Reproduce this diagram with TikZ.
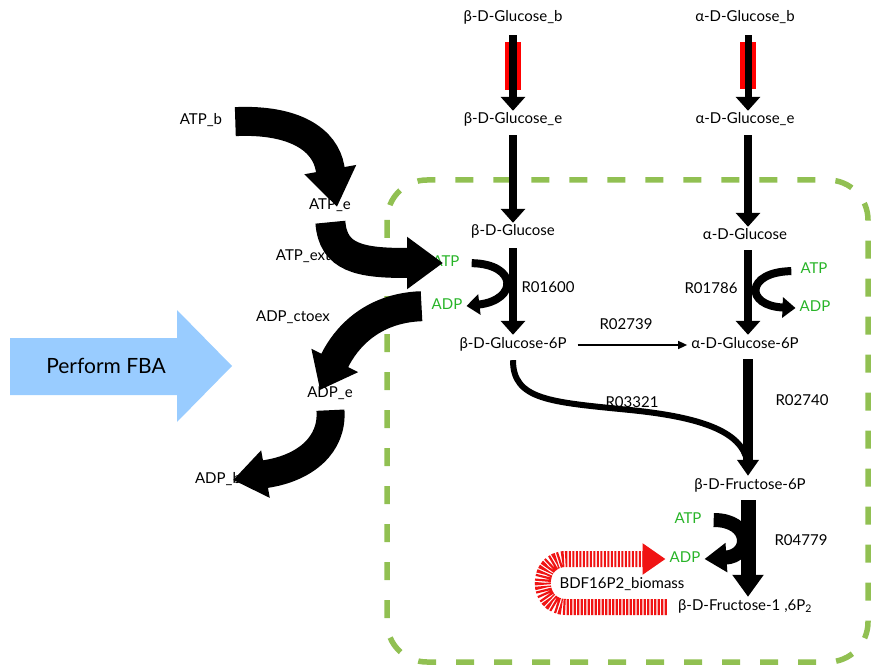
\documentclass[tikz,border=0pt]{standalone}
\usepackage{fontspec}
\setmainfont{Lato}
\usetikzlibrary{arrows.meta,calc,backgrounds}
\definecolor{txtgreen}{RGB}{40,180,40}
\definecolor{boxgreen}{RGB}{145,192,82}
\definecolor{fbablue}{RGB}{153,204,255}
\definecolor{hatchred}{RGB}{240,20,20}
\begin{document}
\begin{tikzpicture}[x=1pt,y=-1pt,
  lbl/.style={inner sep=4pt, text height=9pt, text depth=3pt, font=\fontsize{15}{17}\selectfont},
  glbl/.style={lbl, text=txtgreen},
  vert/.style={line width=8pt, -{Triangle[length=14pt,width=24pt]}},
  vertmid/.style={line width=10pt, -{Triangle[length=16pt,width=21pt]}},
  vertbig/.style={line width=15pt, -{Triangle[length=22pt,width=30pt]}},
  sidearr/.style={line width=8pt, -{Triangle[length=13pt,width=20pt]}},
  sidebig/.style={line width=14pt, -{Triangle[length=22pt,width=28pt]}},
  bigarr/.style={line width=29pt, -{Triangle[length=38pt,width=50pt]}},
  hatch/.style={draw=hatchred, line width=16pt, dash pattern=on 2.2pt off 1.3pt},
  redbar/.style={fill=red}
]
\useasboundingbox (0,0) rectangle (875,668);

% column coordinates
\coordinate (bc) at (513,0);
\coordinate (ac) at (748,0);

% red transport bars
\fill[redbar] (505,42) rectangle (521,90);
\fill[redbar] (740,42) rectangle (756,89);

% metabolite labels
\node[lbl] (bgb) at (513,19) {β-D-Glucose\_b};
\node[lbl] (bge) at (513,121) {β-D-Glucose\_e};
\node[lbl] (bg) at (513,233) {β-D-Glucose};
\node[lbl] (b6p) at (513,345) {β-D-Glucose-6P};
\node[lbl] (agb) at (745,19) {α-D-Glucose\_b};
\node[lbl] (age) at (745,121) {α-D-Glucose\_e};
\node[lbl] (ag) at (745,237) {α-D-Glucose};
\node[lbl] (a6p) at (745,345) {α-D-Glucose-6P};
\node[lbl] (bf6) at (750,486) {β-D-Fructose-6P};
\node[lbl] (bf16) at (745,607) {β-D-Fructose-1 ,6P\textsubscript{2}};
\node[lbl] (bio) at (622,585) {BDF16P2\_biomass};

% reaction labels
\node[lbl] (r01600) at (548,289) {R01600};
\node[lbl] (r01786) at (711,291) {R01786};
\node[lbl] (r02739) at (626,326) {R02739};
\node[lbl] (r03321) at (632,404) {R03321};
\node[lbl] (r02740) at (802,402) {R02740};
\node[lbl] (r04779) at (801,542) {R04779};

% cofactors
\node[glbl] (atp1) at (446,263) {ATP};
\node[glbl] (adp1) at (447,306) {ADP};
\node[glbl] (atp2) at (814,271) {ATP};
\node[glbl] (adp2) at (815,308) {ADP};
\node[glbl] (atp3) at (688,520) {ATP};
\node[glbl] (adp3) at (685,559) {ADP};

% exchange labels
\node[lbl] (atpb) at (201,122) {ATP\_b};
\node[lbl] (atpe) at (330,207) {ATP\_e};
\node[lbl] (atpx) at (311,258) {ATP\_extoc};
\node[lbl] (adpx) at (293,318) {ADP\_ctoex};
\node[lbl] (adpe) at (330,394) {ADP\_e};
\node[lbl] (adpb) at (218,480) {ADP\_b};

\begin{pgfonlayer}{background}
% compartment box
\draw[boxgreen, line width=5.5pt, dash pattern=on 18pt off 20pt, rounded corners=40pt] (387,180) rectangle (868,662);
% Perform FBA arrow
\fill[fbablue] (10,338) -- (177,338) -- (177,310) -- (232,366) -- (177,422) -- (177,395) -- (10,395) -- cycle;
% red biomass loop
\draw[hatch, shorten <=7pt, -{Triangle[length=23pt,width=30pt]}] (bf16.west) -- (566,607) .. controls (535,607) and (535,559) .. (566,559) -- (adp3.west);
\end{pgfonlayer}
\node[font=\fontsize{21}{24}\selectfont] (fba) at (106,366) {Perform FBA};

% vertical reactions
\draw[vert, shorten <=6pt] (bgb.south -| bc) -- (bge.north -| bc);
\draw[vert, shorten <=4pt] (bge.south -| bc) -- (bg.north -| bc);
\draw[vert, shorten <=5pt] (bg.south -| bc) -- (b6p.north -| bc);
\draw[vert, line width=7pt, shorten <=6pt] (agb.south -| ac) -- (age.north -| ac);
\draw[vert, shorten <=4pt] (age.south -| ac) -- (ag.north -| ac);
\draw[vert, shorten <=3pt] (ag.south -| ac) -- (a6p.north -| ac);
\draw[vertmid, shorten <=4pt] (a6p.south -| ac) -- (bf6.north -| ac);
\draw[vertbig, shorten <=4pt] (bf6.south -| ac) -- (bf16.north -| ac);

% R02739
\draw[line width=1.5pt, -{Triangle[length=9pt,width=8pt]}, shorten <=7pt] (b6p.east) -- (a6p.west);

% R03321
\draw[line width=6pt, shorten <=5pt, shorten >=8pt] (b6p.south) .. controls (513,400) and (550,402) .. (630,410) .. controls (710,418) and (747,435) .. (bf6.north -| ac);

% cofactor side arrows
\draw[sidearr, shorten <=8pt] (atp1.east) .. controls (518,264) and (518,300) .. (adp1.east);
\draw[sidearr, shorten <=5pt] (atp2.west) .. controls (745,272) and (745,306) .. (adp2.west);
\draw[sidebig, shorten <=8pt] (atp3.east) .. controls (752,520) and (752,556) .. (adp3.east);

% big exchange arrows
\coordinate (atpetip) at (337,207);
\coordinate (atptip) at (443,263);
\coordinate (adpetip) at (320,390);
\coordinate (adpbtip) at (233,480);
\draw[bigarr, shorten <=9pt] (atpb.east) .. controls (295,119) and (325,140) .. (330,168) -- (atpetip);
\draw[bigarr, line width=30pt, -{Triangle[length=36pt,width=50pt]}, shorten <=5pt] (atpe.south) .. controls (333,258) and (360,263) .. (407,263) -- (atptip);
\draw[bigarr, line width=30pt, -{Triangle[length=33pt,width=50pt]}, shorten <=6pt] (adp1.west) .. controls (370,308) and (345,340) .. (335,360) -- (adpetip);
\draw[bigarr, line width=28pt, -{Triangle[length=33pt,width=46pt]}, shorten <=6pt] (adpe.south) .. controls (333,445) and (305,468) .. (266,474) -- (adpbtip);
\end{tikzpicture}
\end{document}
